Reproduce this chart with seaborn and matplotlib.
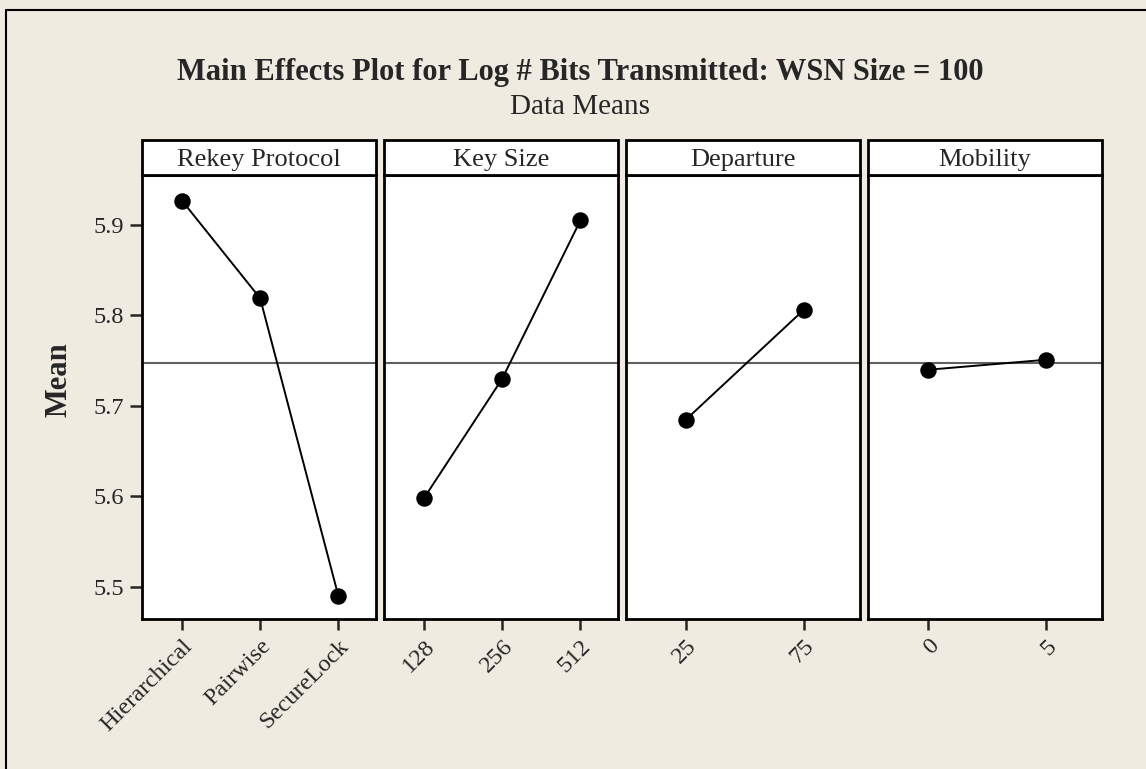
import matplotlib
matplotlib.use("Agg")
import matplotlib.pyplot as plt
from matplotlib.patches import Rectangle
from matplotlib.lines import Line2D
import seaborn as sns
import pandas as pd

# ---- data ----
factors = ["Rekey Protocol", "Key Size", "Departure", "Mobility"]
rekey_levels = ["Hierarchical", "Pairwise", "SecureLock"]
rekey_means = [5.927, 5.819, 5.490]
keysize_levels = ["128", "256", "512"]
keysize_means = [5.598, 5.730, 5.905]
departure_levels = ["25", "75"]
departure_means = [5.685, 5.806]
mobility_levels = ["0", "5"]
mobility_means = [5.740, 5.751]
grand_mean = 5.7475
y_ticks = [5.5, 5.6, 5.7, 5.8, 5.9]

title = "Main Effects Plot for Log # Bits Transmitted: WSN Size = 100"
subtitle = "Data Means"
ylabel = "Mean"

sns.set_style("white")
plt.rcParams["font.family"] = ["Liberation Serif", "DejaVu Serif"]

W, H = 1146, 769
BG = "#EFEBE0"
fig = plt.figure(figsize=(W / 100, H / 100), dpi=100, facecolor=BG)
axes = fig.subplots(1, 4, sharey=True)
fig.subplots_adjust(left=142 / W, right=1102 / W, bottom=1 - 619 / H,
                    top=1 - 175 / H, wspace=8 / 232)

panels = [
    (factors[0], rekey_levels, rekey_means),
    (factors[1], keysize_levels, keysize_means),
    (factors[2], departure_levels, departure_means),
    (factors[3], mobility_levels, mobility_means),
]

ax_h_px = 619 - 175
for i, (ax, (name, levels, means)) in enumerate(zip(axes, panels)):
    df = pd.DataFrame({"level": levels, "mean": means})
    ax.set_facecolor("white")
    ax.axhline(grand_mean, color="#606060", lw=1.5, zorder=1)
    sns.pointplot(data=df, x="level", y="mean", order=levels, color="black",
                  markers="o", linestyles="-", errorbar=None, ax=ax,
                  markersize=10.8, linewidth=1.4)
    n = len(levels)
    ax.set_xlim(-0.51, n - 1 + 0.48)
    ax.set_ylim(5.4646, 5.9552)
    ax.set_xlabel("")
    ax.set_ylabel("")
    for s in ax.spines.values():
        s.set_visible(True)
        s.set_color("black")
        s.set_linewidth(2.0)
    ax.tick_params(axis="x", direction="out", length=8, width=1.8,
                   labelsize=17.5, pad=4, bottom=True)
    for lab in ax.get_xticklabels():
        lab.set_rotation(45)
        lab.set_ha("right")
        lab.set_va("top")
        lab.set_rotation_mode("anchor")
    if i == 0:
        ax.set_yticks(y_ticks)
        ax.set_yticklabels([f"{v:.1f}" for v in y_ticks])
        ax.tick_params(axis="y", direction="out", length=9, width=1.8,
                       labelsize=17.5, pad=4, left=True)
    else:
        ax.tick_params(axis="y", left=False, labelleft=False)
    # header strip
    hh = 35 / ax_h_px
    ax.add_patch(Rectangle((0, 1), 1, hh, transform=ax.transAxes,
                           facecolor="white", edgecolor="black", lw=2.0,
                           clip_on=False, zorder=5))
    ax.text(0.5, 1 + hh / 2, name, transform=ax.transAxes, ha="center",
            va="center_baseline", fontsize=19, zorder=6)

fig.text(580 / W, 1 - 80 / H, title, ha="center", va="baseline",
         fontsize=22, fontweight="bold")
fig.text(580 / W, 1 - 114 / H, subtitle, ha="center", va="baseline",
         fontsize=21)
fig.text(59 / W, 1 - 380 / H, ylabel, ha="center", va="center", rotation=90,
         fontsize=22, fontweight="bold")

# outer frame (top and left edges)
fig.add_artist(Line2D([6 / W, 1], [1 - 9.5 / H, 1 - 9.5 / H],
                      transform=fig.transFigure, color="black", lw=1.5))
fig.add_artist(Line2D([6 / W, 6 / W], [0, 1 - 9.5 / H],
                      transform=fig.transFigure, color="black", lw=1.5))

fig.savefig("out.png", dpi=100, facecolor=BG)
